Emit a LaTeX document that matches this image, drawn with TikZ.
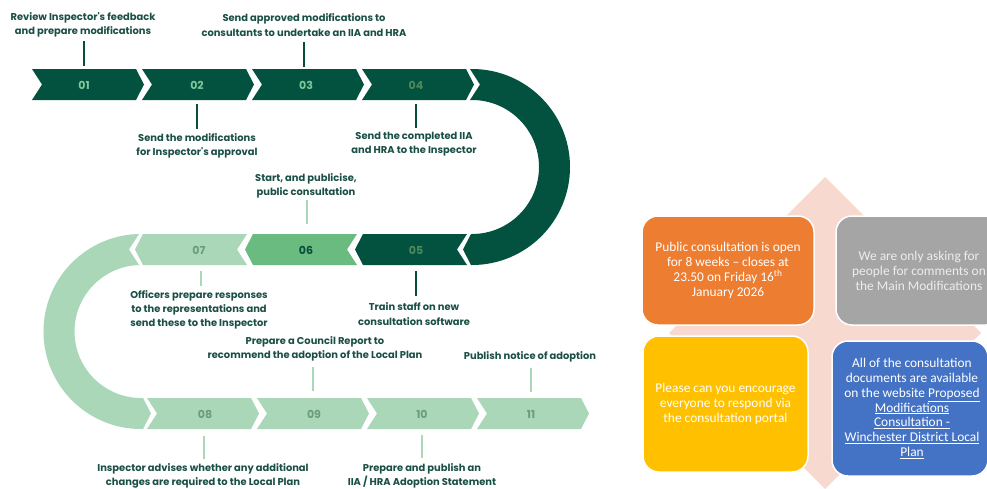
\documentclass[tikz,border=0pt]{standalone}
\usepackage{fontspec}
\newfontfamily\lblfont{Poppins}
\newfontfamily\boxfont{Carlito}
\definecolor{dkg}{HTML}{03523F}
\definecolor{mdg}{HTML}{6ABB80}
\definecolor{ltg}{HTML}{A9D7B7}
\definecolor{numA}{HTML}{7DC79A}
\definecolor{numB}{HTML}{4C8A5E}
\definecolor{numC}{HTML}{0B4D3B}
\definecolor{numD}{HTML}{6A9E7A}
\definecolor{lbl}{HTML}{1A4F45}
\definecolor{pinkbg}{HTML}{F8D9CF}
\definecolor{boxorange}{HTML}{ED7D31}
\definecolor{boxgray}{HTML}{A5A5A5}
\definecolor{boxyellow}{HTML}{FFC000}
\definecolor{boxblue}{HTML}{4472C4}
\newcommand{\chevR}[5]{\fill[#5] (#1,#2) -- (#1+104,#2) -- (#1+112,#4) -- (#1+104,#3) -- (#1,#3) -- (#1+10,#4) -- cycle;}
\newcommand{\chevL}[5]{\fill[#5] (#1,#2) -- (#1+104,#2) -- (#1+94,#4) -- (#1+104,#3) -- (#1,#3) -- (#1-8,#4) -- cycle;}
\tikzset{
  steptext/.style={font=\lblfont\bfseries\fontsize{9.9}{14.3}\selectfont, text=lbl, align=center, inner sep=0pt},
  numtext/.style={font=\lblfont\bfseries\fontsize{11}{12}\selectfont, inner sep=0pt},
  tickdark/.style={draw=numC, line width=2pt},
  ticklight/.style={draw=ltg, line width=2pt},
  infobox/.style={rounded corners=16pt, draw=white, line width=1.5pt, inner sep=0pt},
  boxtext/.style={text=white, align=center, font=\boxfont\fontsize{13.4}{14.8}\selectfont, inner sep=0pt}
}
\begin{document}
\begin{tikzpicture}[x=1pt,y=-1pt]
\useasboundingbox (0,0) rectangle (987,488);
\clip (0,0) rectangle (987,488);
\fill[white] (0,0) rectangle (987,488);
% ---- row 1 ----
\chevR{32}{69}{100}{84.5}{dkg}
\chevR{142}{69}{100}{84.5}{dkg}
\chevR{252}{69}{100}{84.5}{dkg}
\chevR{362}{69}{100}{84.5}{dkg}
% dark arc
\fill[dkg] (470,69) -- (472,69) arc[start angle=-90,end angle=90,radius=98] -- (471,265) -- (463,249.5) -- (471,234) -- (472,234) arc[start angle=90,end angle=-90,radius=67] -- (470,100) -- (480,84.5) -- cycle;
% ---- row 2 ----
\chevL{143}{234}{265}{249.5}{ltg}
\chevL{253}{234}{265}{249.5}{mdg}
\chevL{363}{234}{265}{249.5}{dkg}
% light arc
\fill[ltg] (139,234) -- (141,234) arc[start angle=-90,end angle=-270,radius=97.5] -- (143,429) -- (151,413.5) -- (143,398) -- (141,398) arc[start angle=90,end angle=270,radius=66.5] -- (139,265) -- (129,249.5) -- cycle;
% ---- row 3 ----
\chevR{147}{398}{429}{413.5}{ltg}
\chevR{257}{398}{429}{413.5}{ltg}
\chevR{367}{398}{429}{413.5}{ltg}
\chevR{477}{398}{429}{413.5}{ltg}
% numbers
\node[numtext,text=numA] (n01) at (84,85) {01};
\node[numtext,text=numA] (n02) at (197,85) {02};
\node[numtext,text=numA] (n03) at (306,85) {03};
\node[numtext,text=numB] (n04) at (416,85) {04};
\node[numtext,text=numB] (n05) at (416,250) {05};
\node[numtext,text=numC] (n06) at (306,250) {06};
\node[numtext,text=numD] (n07) at (199,250) {07};
\node[numtext,text=numD] (n08) at (205,414) {08};
\node[numtext,text=numD] (n09) at (314,414) {09};
\node[numtext,text=numD] (n10) at (422,414) {10};
\node[numtext,text=numD] (n11) at (531,414) {11};
% step texts
\node[steptext] (t1) at (83,25) {Review Inspector's feedback\\and prepare modifications};
\node[steptext] (t2) at (304,25) {Send approved modifications to\\consultants to undertake an IIA and HRA};
\node[steptext] (t3) at (197,145.5) {Send the modifications\\for Inspector's approval};
\node[steptext] (t4) at (414,144) {Send the completed IIA\\and HRA to the Inspector};
\node[steptext] (t5) at (306,185.5) {Start, and publicise,\\public consultation};
\node[steptext] (t6) at (199,310) {Officers prepare responses\\to the representations and\\send these to the Inspector};
\node[steptext] (t7) at (414,314) {Train staff on new\\consultation software};
\node[steptext] (t8) at (315,348.5) {Prepare a Council Report to\\recommend the adoption of the Local Plan};
\node[steptext] (t9) at (530,357) {Publish notice of adoption};
\node[steptext] (t10) at (203,476) {Inspector advises whether any additional\\changes are required to the Local Plan};
\node[steptext] (t11) at (422,476) {Prepare and publish an\\IIA / HRA Adoption Statement};
% ticks
\coordinate (k1a) at (84,41); \coordinate (k1b) at (84,66);
\coordinate (k2a) at (304,42); \coordinate (k2b) at (304,67);
\coordinate (k3a) at (197,104); \coordinate (k3b) at (197,129);
\coordinate (k4a) at (416,104); \coordinate (k4b) at (416,128);
\coordinate (k5a) at (307,200); \coordinate (k5b) at (307,224);
\coordinate (k6a) at (201,271); \coordinate (k6b) at (201,286);
\coordinate (k7a) at (416,271); \coordinate (k7b) at (416,296);
\coordinate (k8a) at (313,367); \coordinate (k8b) at (313,391);
\coordinate (k9a) at (531,368); \coordinate (k9b) at (531,392);
\coordinate (k10a) at (204,436); \coordinate (k10b) at (204,459);
\coordinate (k11a) at (422,435); \coordinate (k11b) at (422,458);
\draw[tickdark] (k1a) -- (k1b);
\draw[tickdark] (k2a) -- (k2b);
\draw[tickdark] (k3a) -- (k3b);
\draw[tickdark] (k4a) -- (k4b);
\draw[ticklight] (k5a) -- (k5b);
\draw[ticklight] (k6a) -- (k6b);
\draw[tickdark] (k7a) -- (k7b);
\draw[ticklight] (k8a) -- (k8b);
\draw[ticklight] (k9a) -- (k9b);
\draw[ticklight] (k10a) -- (k10b);
\draw[ticklight] (k11a) -- (k11b);
% ---- right panel ----
\fill[pinkbg] (825,177) -- (981,333) -- (825,489) -- (669,333) -- cycle;
\node[infobox, fill=boxorange, minimum width=172pt, minimum height=109pt] (bo) at (728,270.5) {};
\node[boxtext] (bot) at (728,270.5) {Public consultation is open\\for 8 weeks – closes at\\23.50 on Friday 16\textsuperscript{th}\\January 2026};
\node[infobox, fill=boxgray, minimum width=166pt, minimum height=109pt] (bg) at (919,270.5) {};
\node[boxtext, text=white!93!black] (bgt) at (919,271) {We are only asking for\\people for comments on\\the Main Modifications};
\node[infobox, fill=boxyellow, minimum width=165pt, minimum height=136pt] (by) at (725.5,404) {};
\node[boxtext] (byt) at (725.5,404) {Please can you encourage\\everyone to respond via\\the consultation portal};
\node[infobox, fill=boxblue, minimum width=156pt, minimum height=135pt] (bb) at (910,408.5) {};
\node[boxtext] (bbt) at (912,408.5) {All of the consultation\\documents are available\\on the website \underline{Proposed}\\\underline{Modifications}\\\underline{Consultation -}\\\underline{Winchester District Local}\\\underline{Plan}};
\end{tikzpicture}
\end{document}
